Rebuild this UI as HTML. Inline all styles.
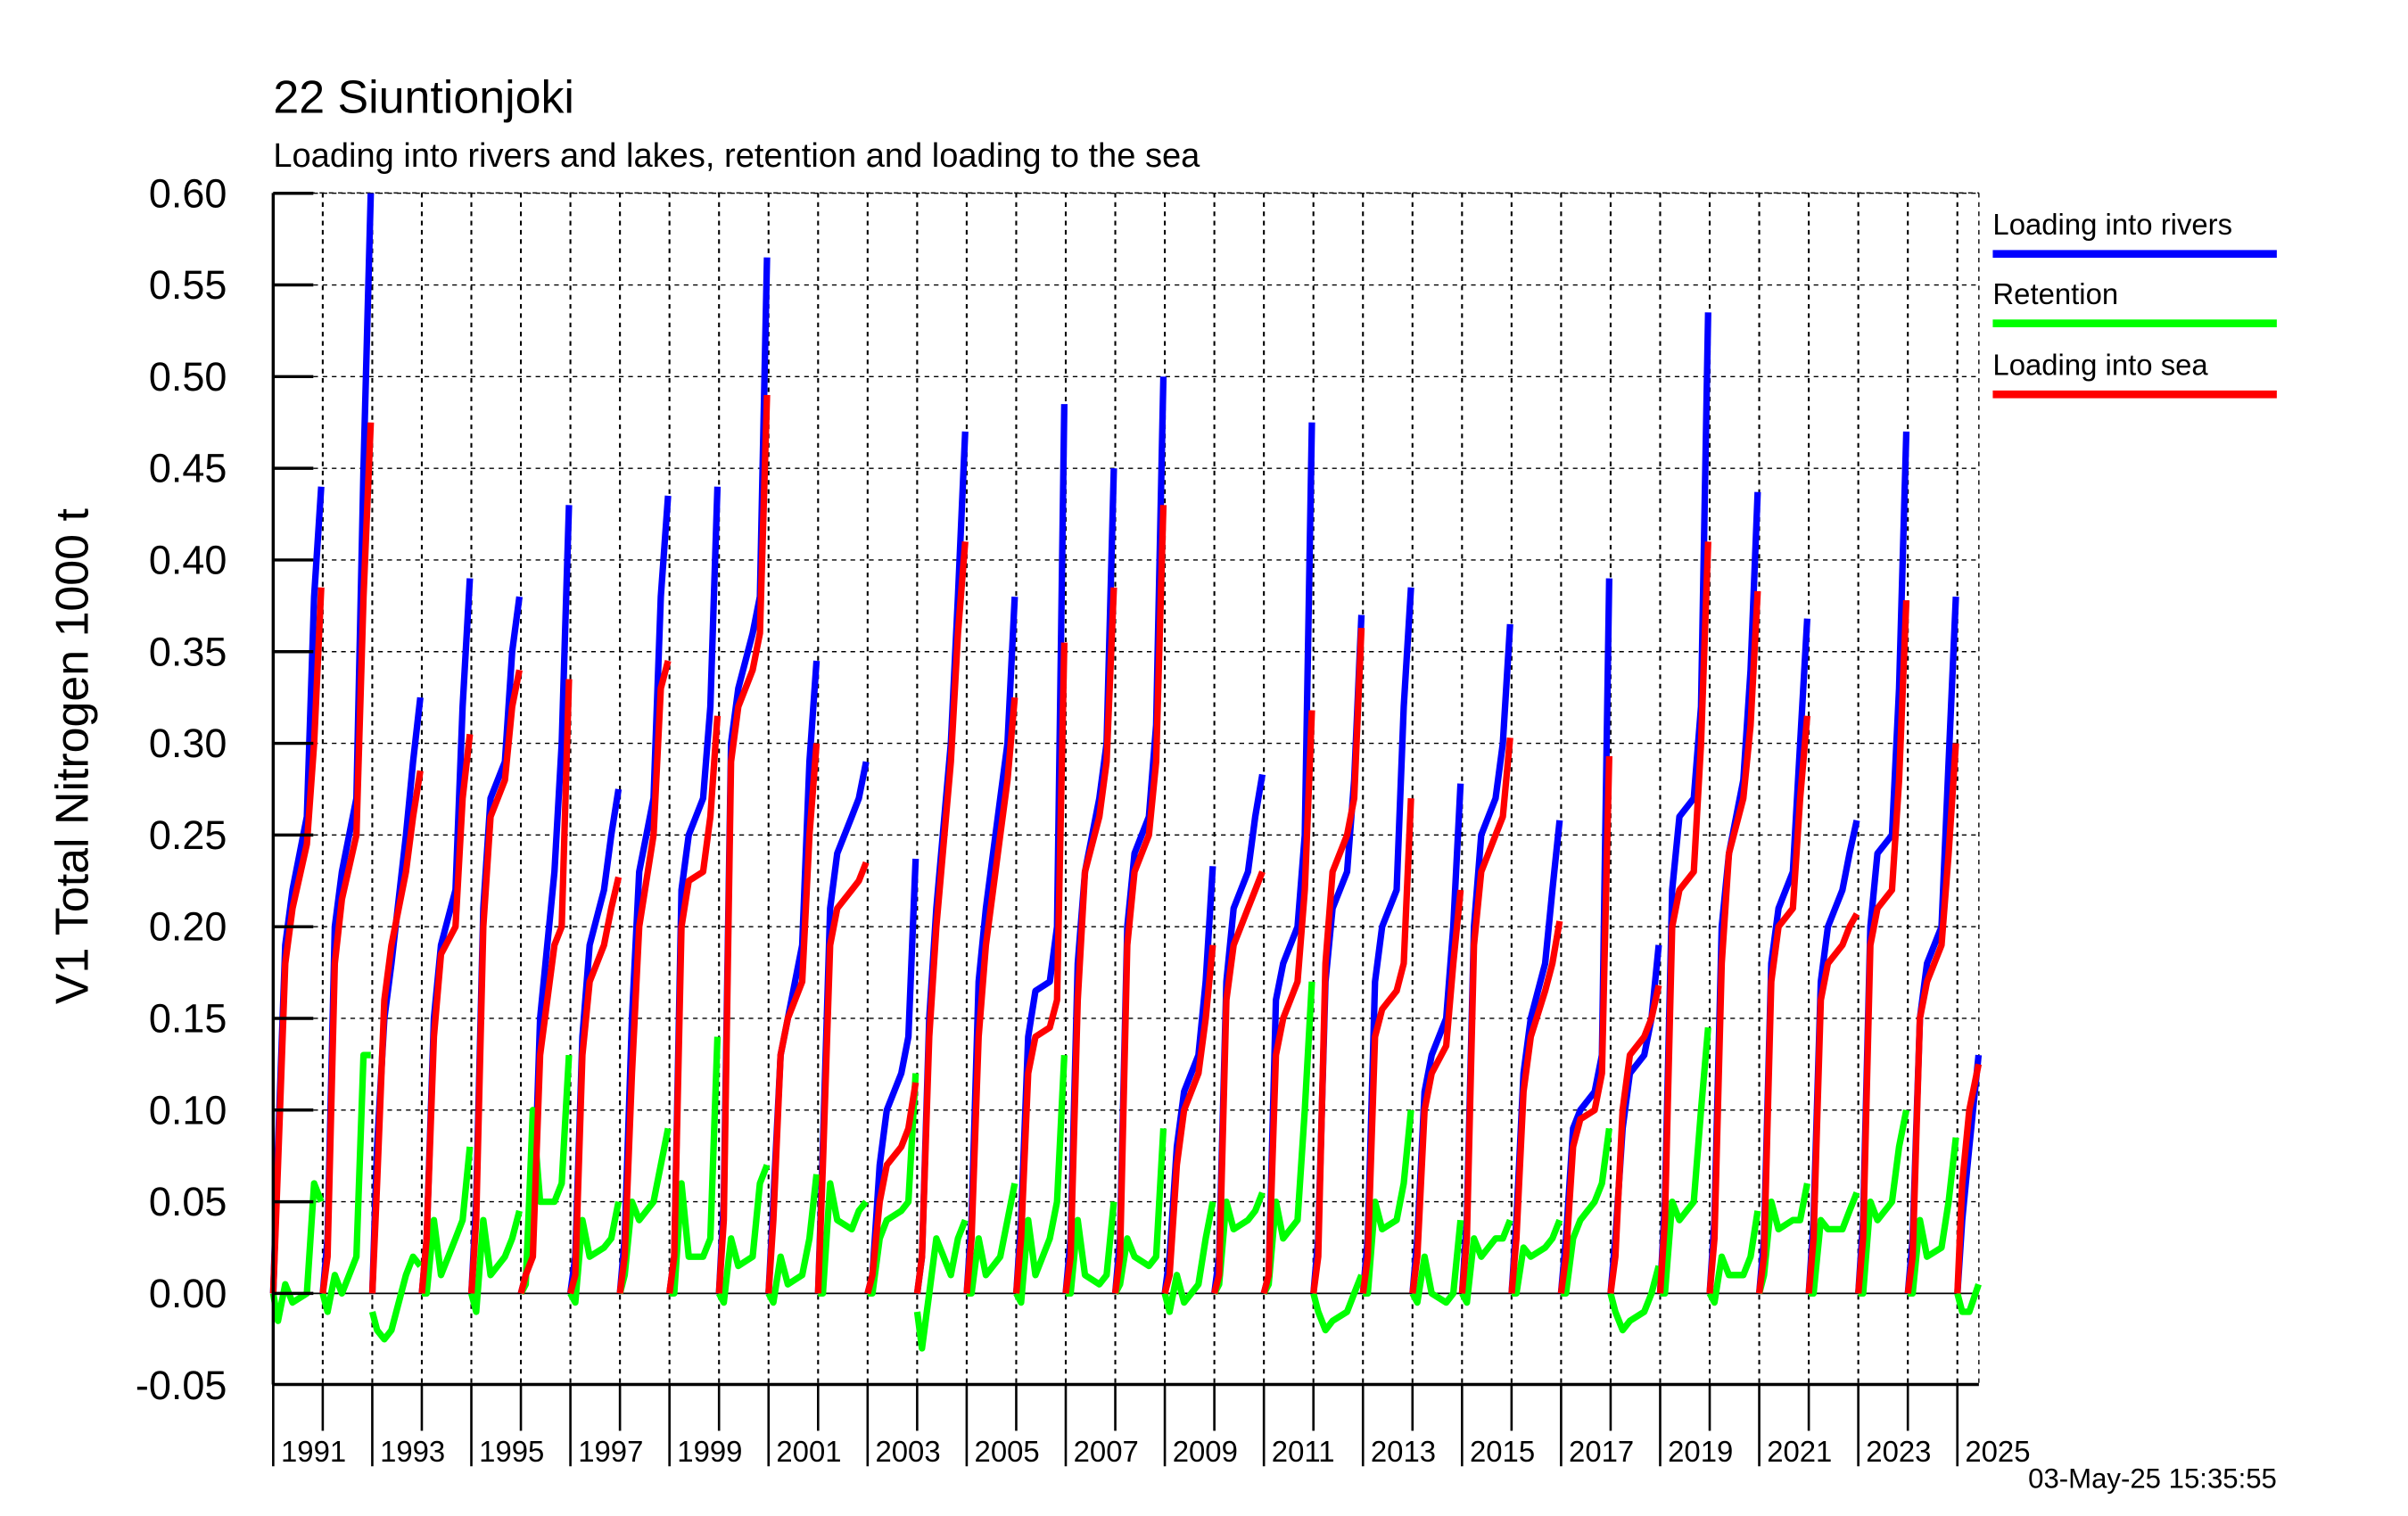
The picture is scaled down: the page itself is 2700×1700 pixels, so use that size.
<!DOCTYPE html>
<html><head><meta charset="utf-8"><style>
html,body{margin:0;padding:0;background:#fff;}
svg{display:block;}
text{font-family:"Liberation Sans",Arial,sans-serif;fill:#000;}
</style></head><body>
<svg id="chart" width="2700" height="1700" viewBox="0 0 1560 982.2">
<text x="177" y="73" font-size="30">22 Siuntionjoki</text>
<text x="177" y="108" font-size="22">Loading into rivers and lakes, retention and loading to the sea</text>
<text transform="translate(57,490) rotate(-90)" text-anchor="middle" font-size="30">V1 Total Nitrogen 1000 t</text>
<g id="grid"></g>
<g id="series"></g>
<g id="axes"></g>
<g>
<text x="1291" y="152" font-size="19">Loading into rivers</text>
<rect x="1291" y="162" width="184" height="5" fill="#0000ff"/>
<text x="1291" y="197" font-size="19">Retention</text>
<rect x="1291" y="207" width="184" height="5" fill="#00ff00"/>
<text x="1291" y="243" font-size="19">Loading into sea</text>
<rect x="1291" y="253" width="184" height="5" fill="#ff0000"/>
</g>
<text x="1475" y="964" font-size="18" text-anchor="end">03-May-25 15:35:55</text>
</svg>
<script>
const years = [1991,1992,1993,1994,1995,1996,1997,1998,1999,2000,2001,2002,2003,2004,2005,2006,2007,2008,2009,2010,2011,2012,2013,2014,2015,2016,2017,2018,2019,2020,2021,2022,2023,2024,2025];
const tFrac = [0,0.1,0.25,0.4,0.7,0.85,1];
const tFracLast = [0,0.1,0.25,0.44];
const yTicks = [-0.05,0,0.05,0.10,0.15,0.20,0.25,0.30,0.35,0.40,0.45,0.50,0.55,0.60];
const yTickLabels = ["-0.05","0.00","0.05","0.10","0.15","0.20","0.25","0.30","0.35","0.40","0.45","0.50","0.55","0.60"];
const xLabelYears = [1991,1993,1995,1997,1999,2001,2003,2005,2007,2009,2011,2013,2015,2017,2019,2021,2023,2025];
const riversLoad = [
[0,0.08,0.19,0.22,0.26,0.38,0.44],[0,0.03,0.20,0.23,0.27,0.45,0.60],[0,0.08,0.15,0.18,0.25,0.29,0.325],[0,0.03,0.15,0.19,0.22,0.32,0.39],
[0,0.05,0.21,0.27,0.29,0.35,0.38],[0,0.01,0.03,0.15,0.23,0.30,0.43],[0,0.02,0.14,0.19,0.22,0.25,0.275],[0,0.03,0.15,0.23,0.27,0.38,0.435],
[0,0.02,0.22,0.25,0.27,0.32,0.44],[0,0.05,0.30,0.33,0.36,0.38,0.565],[0,0.05,0.13,0.15,0.19,0.29,0.345],[0,0.08,0.21,0.24,0.26,0.27,0.29],
[0,0.01,0.07,0.10,0.12,0.14,0.237],[0,0.02,0.15,0.21,0.30,0.38,0.47],[0,0.04,0.17,0.21,0.27,0.30,0.38],[0,0.04,0.14,0.165,0.17,0.20,0.485],
[0,0.03,0.18,0.23,0.27,0.30,0.45],[0,0.03,0.20,0.24,0.26,0.31,0.50],[0,0.02,0.08,0.11,0.13,0.17,0.233],[0,0.02,0.17,0.21,0.23,0.26,0.283],
[0,0.01,0.16,0.18,0.20,0.25,0.475],[0,0.03,0.17,0.21,0.23,0.28,0.37],[0,0.03,0.17,0.20,0.22,0.32,0.385],[0,0.03,0.11,0.13,0.15,0.20,0.278],
[0,0.04,0.20,0.25,0.27,0.30,0.365],[0,0.04,0.12,0.15,0.18,0.22,0.258],[0,0.03,0.09,0.10,0.11,0.13,0.39],[0,0.03,0.09,0.12,0.13,0.15,0.19],
[0,0.05,0.22,0.26,0.27,0.32,0.535],[0,0.04,0.20,0.24,0.28,0.34,0.437],[0,0.03,0.18,0.21,0.23,0.30,0.368],[0,0.04,0.17,0.20,0.22,0.24,0.258],
[0,0.04,0.20,0.24,0.25,0.33,0.47],[0,0.03,0.15,0.18,0.20,0.29,0.38],[0,0.04,0.08,0.13]];
const seaLoad = [
[0,0.07,0.18,0.21,0.245,0.30,0.385],[0,0.02,0.18,0.215,0.25,0.38,0.475],[0,0.06,0.16,0.19,0.23,0.26,0.285],[0,0.03,0.14,0.185,0.20,0.27,0.305],
[0,0.04,0.20,0.26,0.28,0.32,0.34],[0,0.01,0.02,0.13,0.19,0.20,0.335],[0,0.01,0.13,0.17,0.19,0.21,0.227],[0,0.02,0.12,0.20,0.25,0.33,0.345],
[0,0.02,0.20,0.225,0.23,0.26,0.315],[0,0.04,0.29,0.32,0.34,0.36,0.49],[0,0.04,0.13,0.15,0.17,0.25,0.30],[0,0.07,0.19,0.21,0.22,0.225,0.235],
[0,0.01,0.05,0.07,0.08,0.09,0.115],[0,0.02,0.14,0.20,0.29,0.36,0.41],[0,0.03,0.14,0.19,0.25,0.28,0.325],[0,0.03,0.12,0.14,0.145,0.16,0.355],
[0,0.02,0.16,0.23,0.26,0.29,0.385],[0,0.02,0.19,0.23,0.25,0.29,0.43],[0,0.01,0.07,0.10,0.12,0.15,0.19],[0,0.01,0.16,0.19,0.21,0.22,0.23],
[0,0.01,0.13,0.15,0.17,0.22,0.318],[0,0.02,0.18,0.23,0.25,0.27,0.363],[0,0.02,0.14,0.155,0.165,0.18,0.27],[0,0.02,0.10,0.12,0.135,0.18,0.22],
[0,0.03,0.19,0.23,0.25,0.26,0.303],[0,0.03,0.11,0.14,0.165,0.18,0.203],[0,0.02,0.08,0.095,0.10,0.12,0.293],[0,0.02,0.10,0.13,0.14,0.15,0.168],
[0,0.04,0.20,0.22,0.23,0.30,0.41],[0,0.03,0.18,0.24,0.27,0.31,0.383],[0,0.02,0.17,0.20,0.21,0.27,0.315],[0,0.03,0.16,0.18,0.19,0.20,0.207],
[0,0.03,0.19,0.21,0.22,0.28,0.378],[0,0.02,0.15,0.17,0.19,0.24,0.30],[0,0.06,0.10,0.125]];
const retention = [
[0,-0.015,0.005,-0.005,0.0,0.06,0.05],[0,-0.01,0.01,0.0,0.02,0.13,0.13],[-0.01,-0.02,-0.025,-0.02,0.01,0.02,0.015],[0,0.0,0.04,0.01,0.03,0.04,0.08],
[0,-0.01,0.04,0.01,0.02,0.03,0.045],[0,0.005,0.10,0.05,0.05,0.06,0.13],[0,-0.005,0.04,0.02,0.025,0.03,0.05],[0,0.01,0.05,0.04,0.05,0.07,0.09],
[0,0.0,0.06,0.02,0.02,0.03,0.14],[0,-0.005,0.03,0.015,0.02,0.06,0.07],[0,-0.005,0.02,0.005,0.01,0.03,0.065],[0,0.0,0.06,0.04,0.035,0.045,0.05],
[0,0.0,0.03,0.04,0.045,0.05,0.12],[-0.01,-0.03,0.0,0.03,0.01,0.03,0.04],[0,0.0,0.03,0.01,0.02,0.04,0.06],[0,-0.005,0.04,0.01,0.03,0.05,0.13],
[0,0.0,0.04,0.01,0.005,0.01,0.05],[0,0.005,0.03,0.02,0.015,0.02,0.09],[0,-0.01,0.01,-0.005,0.005,0.03,0.05],[0,0.005,0.05,0.035,0.04,0.045,0.055],
[0,0.005,0.05,0.03,0.04,0.10,0.17],[0,-0.01,-0.02,-0.015,-0.01,0.0,0.01],[0,0.0,0.05,0.035,0.04,0.06,0.10],[0,-0.005,0.02,0.0,-0.005,0.0,0.04],
[0,-0.005,0.03,0.02,0.03,0.03,0.04],[0,0.0,0.025,0.02,0.025,0.03,0.04],[0,0.0,0.03,0.04,0.05,0.06,0.09],[0,-0.01,-0.02,-0.015,-0.01,0.0,0.015],
[0,0.0,0.05,0.04,0.05,0.10,0.145],[0,-0.005,0.02,0.01,0.01,0.02,0.045],[0,0.01,0.05,0.035,0.04,0.04,0.06],[0,0.0,0.04,0.035,0.035,0.045,0.055],
[0,0.0,0.05,0.04,0.05,0.08,0.10],[0,0.0,0.04,0.02,0.025,0.05,0.085],[0,-0.01,-0.01,0.005]];

const NS='http://www.w3.org/2000/svg';
const X0=177, X1=1282, Y0=125, YB=897, xStart=1991, yearW=32.09;
const xScale = t => X0 + (t - xStart) * yearW;
const yScale = v => 838 - v * 1188;
function mk(tag, attrs, parent){const e=document.createElementNS(NS,tag);for(const k in attrs)e.setAttribute(k,attrs[k]);parent.appendChild(e);return e;}
const gridG=document.getElementById('grid'), seriesG=document.getElementById('series'), axesG=document.getElementById('axes');

yTicks.forEach((v,i)=>{
  const y=yScale(v);
  if (Math.abs(v)<1e-9){
    const l=mk('line',{x1:X0,x2:X1,y1:y,y2:y,stroke:'#000','stroke-width':1},gridG);
    
    
  } else if (v>-0.04){
    const l=mk('line',{x1:X0+26,x2:X1,y1:y,y2:y,stroke:'#000','stroke-width':0.8,'stroke-dasharray':'3,3'},gridG);
    
    
  }
  if (v>-0.04){
    const tk=mk('line',{x1:X0,x2:X0+26,y1:y,y2:y,stroke:'#000','stroke-width':2},axesG);
    
    
  }
  const t=mk('text',{x:147,y:y+9,'font-size':26,'text-anchor':'end'},axesG);
  t.textContent=yTickLabels[i];
  
  
});
for(let yr=1992; yr<=2025; yr++){
  const x=xScale(yr);
  const g=mk('line',{x1:x,x2:x,y1:Y0,y2:YB,stroke:'#000','stroke-width':1.2,'stroke-dasharray':'3,3'},gridG);
  
  
}
for(let yr=1991; yr<=2025; yr++){
  const x=xScale(yr);
  const isLong = (yr%2===1);
  const tk=mk('line',{x1:x,x2:x,y1:YB,y2:isLong?950:927,stroke:'#000','stroke-width':1.5},axesG);
  
  
}
xLabelYears.forEach(yr=>{
  const t=mk('text',{x:xScale(yr)+5,y:947,'font-size':19},axesG);
  t.textContent=String(yr);
  
  
});
const topBorder=mk('line',{x1:X0,x2:X1,y1:Y0,y2:Y0,stroke:'#000','stroke-width':0.8,'stroke-dasharray':'3,3'},gridG);


const rightBorder=mk('line',{x1:X1,x2:X1,y1:Y0,y2:YB,stroke:'#000','stroke-width':0.8,'stroke-dasharray':'3,3'},gridG);


const yAxisLine=mk('line',{x1:X0,x2:X0,y1:Y0,y2:YB,stroke:'#000','stroke-width':2},axesG);


const xAxisLine=mk('line',{x1:X0,x2:X1,y1:YB,y2:YB,stroke:'#000','stroke-width':2},axesG);



function drawSeries(data, color, name){
  years.forEach((yr,i)=>{
    const vals=data[i];
    const ts = vals.length===tFrac.length ? tFrac : tFracLast;
    const pts = vals.map((v,j)=> xScale(yr + ts[j]*0.97).toFixed(1)+','+yScale(v).toFixed(1));
    const p=mk('polyline',{points:pts.join(' '),fill:'none',stroke:color,'stroke-width':4.2,'stroke-linejoin':'round'},seriesG);
    
    
  });
}
drawSeries(riversLoad,'#0000ff','rivers-line');
drawSeries(retention,'#00ff00','retention-line');
drawSeries(seaLoad,'#ff0000','sea-line');
</script>
</body></html>
